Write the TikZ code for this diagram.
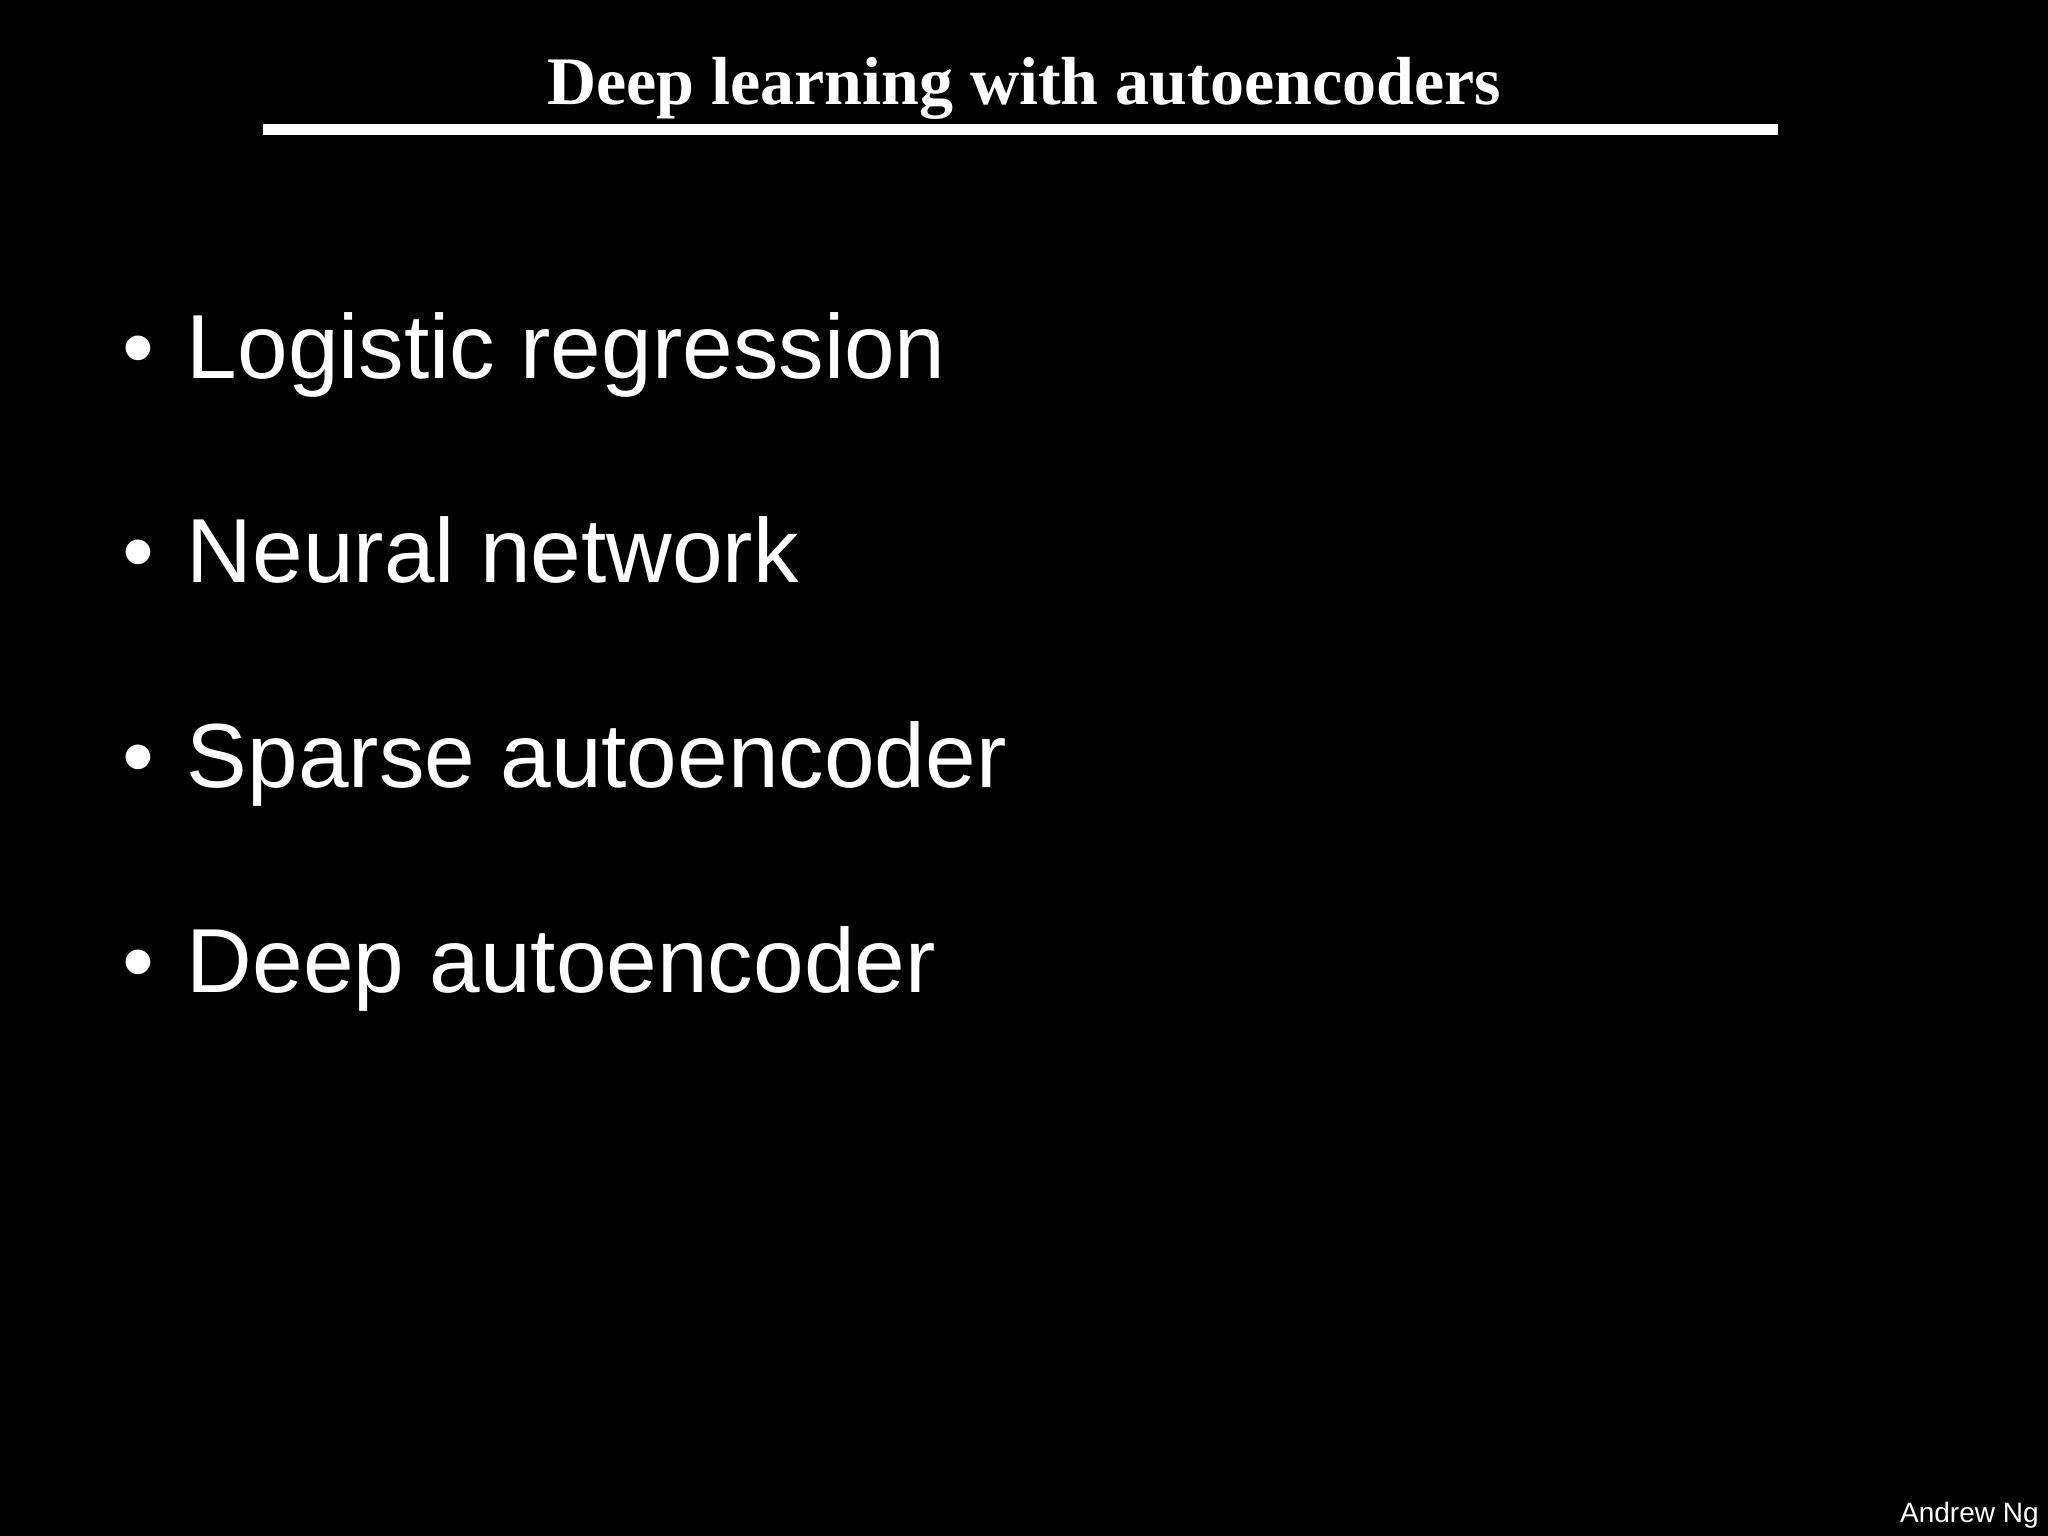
\documentclass[tikz,border=0pt]{standalone}
\usepackage{fontspec}
\setmainfont{Liberation Sans}
\newfontfamily\titlefont{Liberation Serif}
\begin{document}
\begin{tikzpicture}[x=1.30612pt,y=-1.30612pt,
  item/.style={anchor=base west,inner sep=0pt,text=white,font=\fontsize{91}{100}\selectfont},
  dot/.style={anchor=base,inner sep=0pt,text=white,font=\fontsize{91}{100}\selectfont}]
\fill[black] (0,0) rectangle (1568,1176);
\useasboundingbox (0,0) rectangle (1568,1176);
\node[anchor=base,inner sep=0pt,text=white,font=\titlefont\bfseries\fontsize{68}{80}\selectfont] (title) at (784,80) {Deep learning with autoencoders};
\fill[white] (201,95) rectangle (1361,103);
\foreach \t/\y/\n in {Logistic regression/290/a, Neural network/446/b, Sparse autoencoder/603/c, Deep autoencoder/760/d}{
  \node[dot] (b\n) at (106,\y) {•};
  \node[item] (\n) at (143,\y) {\t};
}
\node[anchor=base east,inner sep=0pt,text=white,font=\fontsize{28}{32}\selectfont] (auth) at (1561,1166) {Andrew Ng};
\end{tikzpicture}
\end{document}
